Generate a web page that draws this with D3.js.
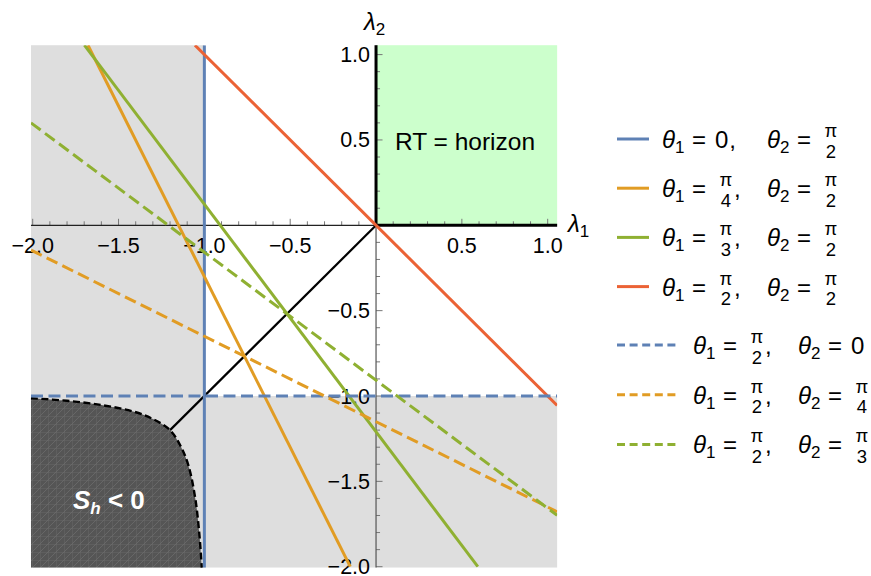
<!DOCTYPE html>
<html>
<head>
<meta charset="utf-8">
<script src="https://cdn.jsdelivr.net/npm/d3@7"></script>
<style>
  body { margin: 0; background: #fff; }
  text { font-family: "Liberation Sans", Arial, sans-serif; }
</style>
</head>
<body>
<svg id="chart" width="871" height="576"></svg>
<script>
// plot window in data units
const xLim = [-2.01, 1.055];
const yLim = [-2.005, 1.055];

const xTicks = [-2, -1.5, -1, -0.5, 0.5, 1];
const xTickLabels = ["−2.0", "−1.5", "−1.0", "−0.5", "0.5", "1.0"];
const yTicks = [1, 0.5, -0.5, -1, -1.5, -2];
const yTickLabels = ["1.0", "0.5", "−0.5", "−1.0", "−1.5", "−2.0"];

// end points of every line
const solidLines = [
  [[-1, -2.01], [-1, 1.055]],          // θ1 = 0
  [[-1.678, 1.055], [-0.15, -2.0]],     // θ1 = π/4
  [[-1.699, 1.055], [0.593, -2.0]],     // θ1 = π/3
  [[-1.055, 1.055], [1.055, -1.055]]    // θ1 = π/2
];
const dashedLines = [
  [[-2.01, -1], [1.055, -1]],           // θ2 = 0
  [[-2.01, -0.145], [1.055, -1.678]],   // θ2 = π/4
  [[-2.01, 0.6], [1.055, -1.699]]       // θ2 = π/3
];
const diagonal = [[0, 0], [-1.2, -1.2]];

// boundary of the S_h < 0 region
const shBoundary = [
  [-2.01, -1.013], [-1.8, -1.028], [-1.6, -1.053], [-1.41, -1.092], [-1.3, -1.135],
  [-1.2, -1.2], [-1.135, -1.3], [-1.092, -1.41], [-1.053, -1.6], [-1.03, -1.8], [-1.015, -2.005]
];

const solidTheta1 = ["0", "π/4", "π/3", "π/2"];
const solidTheta2 = ["π/2", "π/2", "π/2", "π/2"];
const dashedTheta1 = ["π/2", "π/2", "π/2"];
const dashedTheta2 = ["0", "π/4", "π/3"];

const palette = ["#5e81b5", "#e19c24", "#8fb032", "#eb6235"];

const svg = d3.select("#chart");

const x = d3.scaleLinear().domain([-2, 1]).range([32.7, 547.7]);
const y = d3.scaleLinear().domain([-2, 1]).range([566.7, 54.6]);

const defs = svg.append("defs");
defs.append("clipPath").attr("id", "plotClip")
  .append("rect")
  .attr("x", x(xLim[0])).attr("y", y(yLim[1]))
  .attr("width", x(xLim[1]) - x(xLim[0]))
  .attr("height", y(yLim[0]) - y(yLim[1]));

// hatch texture of the dark region
const pat = defs.append("pattern").attr("id", "hatch")
  .attr("patternUnits", "userSpaceOnUse").attr("width", 8).attr("height", 8);
pat.append("rect").attr("width", 8).attr("height", 8).attr("fill", "#555555");
pat.append("path").attr("d", "M0,0V8M0,0H8M0,8L8,0")
  .attr("stroke", "#6c6c6c").attr("stroke-width", 0.8).attr("fill", "none");

// regions
const grey = "#dedede";
svg.append("rect")
  .attr("x", x(xLim[0])).attr("y", y(yLim[1]))
  .attr("width", x(-1) - x(xLim[0])).attr("height", y(yLim[0]) - y(yLim[1]))
  .attr("fill", grey);
svg.append("rect")
  .attr("x", x(xLim[0])).attr("y", y(-1))
  .attr("width", x(xLim[1]) - x(xLim[0])).attr("height", y(yLim[0]) - y(-1))
  .attr("fill", grey);
svg.append("rect")
  .attr("x", x(0)).attr("y", y(yLim[1]))
  .attr("width", x(xLim[1]) - x(0)).attr("height", y(0) - y(yLim[1]))
  .attr("fill", "#ccffcc");

const curve = d3.line().x(d => x(d[0])).y(d => y(d[1])).curve(d3.curveCatmullRom);
svg.append("path")
  .attr("d", curve(shBoundary) + `L${x(xLim[0])},${y(yLim[0])}Z`)
  .attr("fill", "url(#hatch)");
svg.append("path")
  .attr("d", curve(shBoundary))
  .attr("fill", "none").attr("stroke", "#000")
  .attr("stroke-width", 2.4).attr("stroke-dasharray", "7,3.5");

svg.append("text")
  .attr("x", 465).attr("y", 150)
  .attr("text-anchor", "middle")
  .attr("font-size", 24.5)
  .text("RT = horizon");

const shLabel = svg.append("text")
  .attr("x", 73).attr("y", 509)
  .attr("fill", "#fff").attr("font-size", 26).attr("font-weight", "bold");
shLabel.append("tspan").attr("font-style", "italic").text("S");
shLabel.append("tspan").attr("font-style", "italic").attr("font-size", 17).attr("dy", 5).text("h");
shLabel.append("tspan").attr("dy", -5).text(" < 0");

// axes
const axes = svg.append("g");
const minorX = d3.range(-20, 11).map(d => d / 10);
const minorY = d3.range(-20, 11).map(d => d / 10);
const isMajor = d => Math.abs(d * 2 - Math.round(d * 2)) < 1e-6;
axes.selectAll(".xt").data(minorX.filter(d => Math.abs(d) > 1e-9)).enter()
  .append("line")
  .attr("x1", d => x(d)).attr("x2", d => x(d))
  .attr("y1", y(0))
  .attr("y2", d => y(0) - (isMajor(d) ? 6.5 : 4))
  .attr("stroke", "#777").attr("stroke-width", 1);
axes.selectAll(".yt").data(minorY.filter(d => Math.abs(d) > 1e-9)).enter()
  .append("line")
  .attr("y1", d => y(d)).attr("y2", d => y(d))
  .attr("x1", x(0))
  .attr("x2", d => x(0) + (isMajor(d) ? 6.5 : 4))
  .attr("stroke", "#777").attr("stroke-width", 1);

axes.append("line")
  .attr("x1", x(xLim[0])).attr("x2", x(0)).attr("y1", y(0)).attr("y2", y(0))
  .attr("stroke", "#222").attr("stroke-width", 1.2);
axes.append("line")
  .attr("x1", x(0)).attr("x2", x(0)).attr("y1", y(0)).attr("y2", y(yLim[0]))
  .attr("stroke", "#555").attr("stroke-width", 1.2);
axes.append("line")
  .attr("x1", x(0)).attr("x2", x(xLim[1])).attr("y1", y(0)).attr("y2", y(0))
  .attr("stroke", "#000").attr("stroke-width", 3);
axes.append("line")
  .attr("x1", x(0)).attr("x2", x(0)).attr("y1", y(0)).attr("y2", y(yLim[1]))
  .attr("stroke", "#000").attr("stroke-width", 3);

axes.selectAll(".xl").data(xTicks).enter().append("text")
  .attr("x", d => x(d)).attr("y", y(0) + 28)
  .attr("text-anchor", "middle").attr("font-size", 21.5)
  .text((d, i) => xTickLabels[i]);
axes.selectAll(".yl").data(yTicks).enter().append("text")
  .attr("x", x(0) - 6).attr("y", d => y(d) + 7.5)
  .attr("text-anchor", "end").attr("font-size", 21.5)
  .text((d, i) => yTickLabels[i]);

const l1 = axes.append("text").attr("x", 568).attr("y", 232).attr("font-size", 24);
l1.append("tspan").attr("font-style", "italic").text("λ");
l1.append("tspan").attr("font-size", 17).attr("dy", 5).text("1");
const l2 = axes.append("text").attr("x", 364).attr("y", 30).attr("font-size", 24);
l2.append("tspan").attr("font-style", "italic").text("λ");
l2.append("tspan").attr("font-size", 17).attr("dy", 5).text("2");

// curves
const seg = d3.line().x(d => x(d[0])).y(d => y(d[1]));
const plot = svg.append("g").attr("clip-path", "url(#plotClip)");
plot.append("path").attr("d", seg(diagonal))
  .attr("stroke", "#000").attr("stroke-width", 2.2).attr("fill", "none");
plot.selectAll(".solid").data(solidLines).enter().append("path")
  .attr("d", d => seg(d))
  .attr("stroke", (d, i) => palette[i]).attr("stroke-width", 3).attr("fill", "none");
plot.selectAll(".dashed").data(dashedLines).enter().append("path")
  .attr("d", d => seg(d))
  .attr("stroke", (d, i) => palette[i]).attr("stroke-width", 3).attr("fill", "none")
  .attr("stroke-dasharray", "12,5.5");

// legend
const legend = svg.append("g");

function drawValue(g, gx, base, v) {
  if (v.includes("/")) {
    const parts = v.split("/");
    g.append("text").attr("x", gx + 64).attr("y", base - 11)
      .attr("text-anchor", "middle").attr("font-size", 18.5).text(parts[0]);
    g.append("text").attr("x", gx + 64).attr("y", base + 9.5)
      .attr("text-anchor", "middle").attr("font-size", 18.5).text(parts[1]);
    return gx + 71;
  }
  const t = g.append("text").attr("x", gx + 53).attr("y", base)
    .attr("font-size", 24).text(v);
  return gx + 53 + t.node().getComputedTextLength();
}

function drawTerm(g, gx, base, idx, v, comma) {
  const t = g.append("text").attr("x", gx).attr("y", base).attr("font-size", 24);
  t.append("tspan").attr("font-style", "italic").text("θ");
  t.append("tspan").attr("font-size", 17).attr("dy", 5).text(idx);
  g.append("text").attr("x", gx + 37).attr("y", base)
    .attr("text-anchor", "middle").attr("font-size", 24).text("=");
  const end = drawValue(g, gx, base, v);
  if (comma) {
    g.append("text").attr("x", end + 1).attr("y", base).attr("font-size", 24).text(",");
  }
}

function drawRow(cy, color, dashed, t1, t2) {
  const g = legend.append("g");
  const x0 = 617, x1 = dashed ? 678 : 649;
  g.append("line").attr("x1", x0).attr("x2", x1).attr("y1", cy).attr("y2", cy)
    .attr("stroke", color).attr("stroke-width", 3)
    .attr("stroke-dasharray", dashed ? "8,4.6" : null);
  const gx = dashed ? 693 : 662;
  const base = cy + 9;
  drawTerm(g, gx, base, "1", t1, true);
  drawTerm(g, gx + 105, base, "2", t2, false);
}

solidTheta1.forEach((t, i) => drawRow(139 + i * 49.2, palette[i], false, t, solidTheta2[i]));
dashedTheta1.forEach((t, i) => drawRow(345 + i * 49.7, palette[i], true, t, dashedTheta2[i]));
</script>
</body>
</html>
